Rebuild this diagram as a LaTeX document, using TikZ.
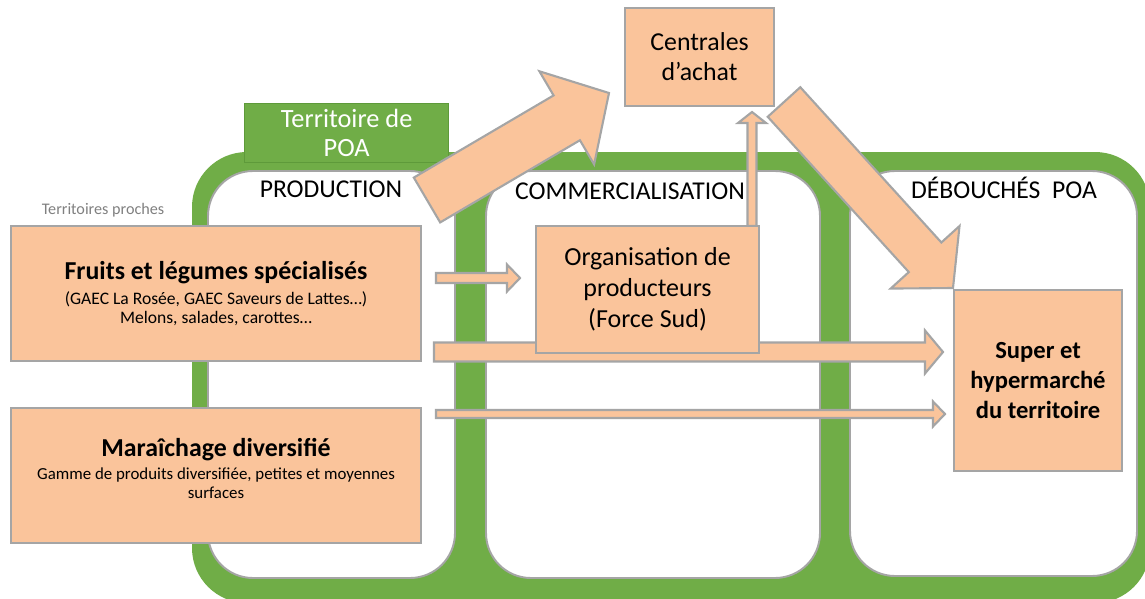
\documentclass[tikz,border=0pt]{standalone}
\usepackage{fontspec}
\setmainfont{Carlito}
\usetikzlibrary{calc}
\definecolor{verde}{HTML}{70AD47}
\definecolor{verdeesc}{HTML}{5E9A3A}
\definecolor{pessego}{HTML}{FAC49B}
\definecolor{cinza}{HTML}{A5A5A5}
\tikzset{
  caixa/.style={draw=cinza, line width=1.2pt, fill=pessego, inner sep=0pt, align=center, anchor=north west},
  painel/.style={draw=cinza, line width=1.1pt, fill=white, rounded corners=0.9cm},
  titulo/.style={font=\fontsize{14.6}{16}\selectfont},
  setabloco/.style={draw=cinza, fill=pessego, line width=1.2pt, line join=miter}
}
\newcommand{\grostit}[1]{{\fontsize{14.7}{17}\selectfont\bfseries #1}}
% seta em bloco: #1 inicio, #2 ponta, #3 meia largura do corpo, #4 meia largura da ponta, #5 comprimento da ponta (px)
\newcommand{\blocoseta}[5]{%
  \coordinate (hb) at ($(#2)!#5*0.02cm!(#1)$);
  \draw[setabloco] ($(#1)!#3*0.02cm!90:(#2)$) -- ($(hb)!#3*0.02cm!90:(#2)$) -- ($(hb)!#4*0.02cm!90:(#2)$) -- (#2)
    -- ($(hb)!#4*0.02cm!-90:(#2)$) -- ($(hb)!#3*0.02cm!-90:(#2)$) -- ($(#1)!#3*0.02cm!-90:(#2)$) -- cycle;}
\begin{document}
\begin{tikzpicture}[x=0.02cm, y=-0.02cm] %1 unidade = 1 pixel
	\useasboundingbox (0,0) rectangle (1145,598);
		%Territoire
	\fill[verde, rounded corners=1.1cm] (192,152) rectangle (1150,603);
	\draw[painel] (208,171) rectangle (455,578);
	\draw[painel] (486,171) rectangle (820,578);
	\draw[painel] (850,171) rectangle (1137,576);
	\node[caixa, fill=verde, draw=verdeesc, line width=0.8pt, text=white, minimum width=4.08cm, minimum height=1.18cm,
	      font=\fontsize{15}{16.4}\selectfont] (terr) at (244,103) {Territoire de\\POA};
		%Titres
	\node[titulo] (prod) at (331,189) {PRODUCTION};
	\node[titulo] (comm) at (630,191) {COMMERCIALISATION};
	\node[titulo] (debo) at (1004,188) {DÉBOUCHÉS~~POA};
	\node[text=gray, font=\fontsize{9.2}{11}\selectfont] (proches) at (103,210) {Territoires proches};
		%Production
	\node[caixa, minimum width=8.2cm, minimum height=2.7cm, font=\fontsize{10}{11.2}\selectfont] (fruits) at (10,225)
	  {\grostit{Fruits et légumes spécialisés}\\[3pt]
	   (GAEC La Rosée, GAEC Saveurs de Lattes…)\\Melons, salades, carottes…};
	\node[caixa, minimum width=8.2cm, minimum height=2.7cm, font=\fontsize{9.6}{10.8}\selectfont] (marai) at (10,407)
	  {\grostit{Maraîchage diversifié}\\[2.5pt]
	   Gamme de produits diversifiée, petites et moyennes\\surfaces\\[-3pt]};
		%Debouches
	\node[caixa, minimum width=3.36cm, minimum height=3.62cm, font=\fontsize{14}{17}\selectfont\bfseries] (super) at (953,289)
	  {Super et\\hypermarché\\du territoire};
	\node[caixa, minimum width=2.98cm, minimum height=1.96cm, font=\fontsize{14.7}{17}\selectfont] (centrales) at (624,7)
	  {Centrales\\d’achat};
		%Fleches
	\coordinate (a1s) at (427,200); \coordinate (a1e) at (609,93);
	\coordinate (a2s) at (784,102); \coordinate (a2e) at (953,288);
	\coordinate (a4s) at (434,352); \coordinate (a4e) at (943,352);
	\coordinate (a5s) at (436,414); \coordinate (a5e) at (945,414);
	\blocoseta{a4s}{a4e}{9.5}{21.5}{18}
	\blocoseta{a5s}{a5e}{4}{12.5}{12}
	\blocoseta{a1s}{a1e}{26}{54}{49}
	\blocoseta{a2s}{a2e}{22}{46.5}{41.5}
		%Commercialisation
	\coordinate (a3s) at (436,278); \coordinate (a3e) at (520,278);
	\coordinate (a6s) at (752,226); \coordinate (a6e) at (752,112);
	\blocoseta{a3s}{a3e}{5}{13.5}{13}
	\blocoseta{a6s}{a6e}{4.5}{14}{11}
	\node[caixa, minimum width=4.46cm, minimum height=2.54cm, font=\fontsize{14.8}{17.6}\selectfont] (org) at (535,225)
	  {Organisation de\\producteurs\\(Force Sud)};
\end{tikzpicture}
\end{document}
